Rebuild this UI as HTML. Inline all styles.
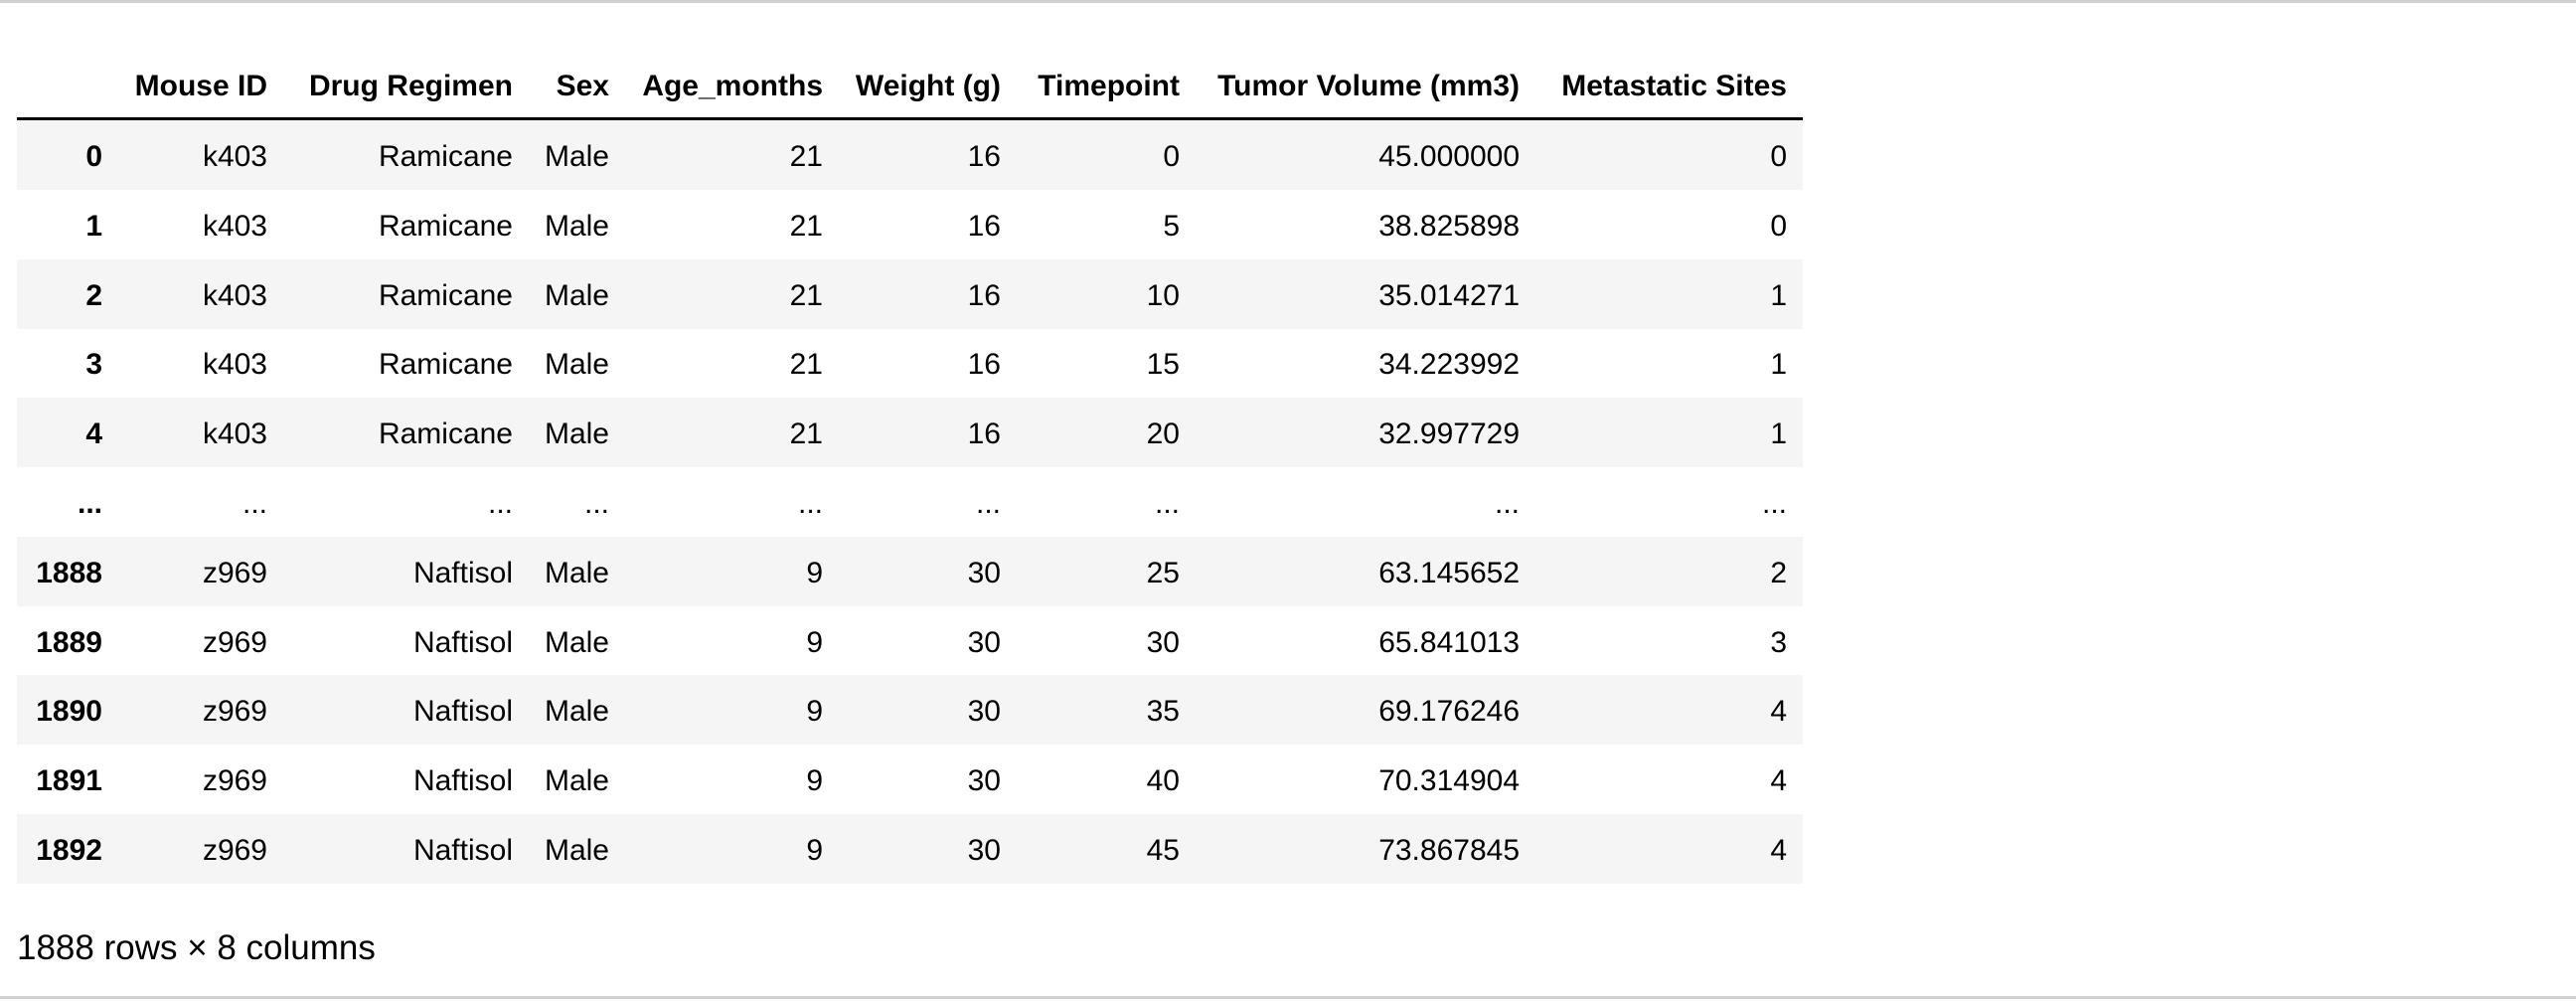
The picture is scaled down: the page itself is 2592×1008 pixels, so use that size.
<!DOCTYPE html>
<html><head><meta charset="utf-8"><style>
html,body{margin:0;padding:0;width:2592px;height:1008px;background:#fff;overflow:hidden;font-family:"Liberation Sans",Arial,sans-serif;color:#000}
.line{position:absolute;left:0;width:2592px;height:3px;background:#d0d0d0}
.row{position:absolute;left:17px;width:1797px;height:70px}
.g{background:#f5f5f5}
.c{position:absolute;font-size:30px;line-height:30px;white-space:nowrap;transform:translateX(-100%)}
.b{font-weight:bold}
#hdr{position:absolute;left:17px;top:118px;width:1797px;height:3px;background:#000}
</style></head><body>
<div class="line" style="top:0"></div>
<div id="hdr"></div>
<div id="tbl"></div>
<div style="position:absolute;left:17px;top:936px;font-size:35px;line-height:35px">1888 rows × 8 columns</div>
<div class="line" style="top:1002px"></div>
<script>
const colRight=[103,269,516,613,828,1007,1187,1529,1798];
const headers=["","Mouse ID","Drug Regimen","Sex","Age_months","Weight (g)","Timepoint","Tumor Volume (mm3)","Metastatic Sites"];
const rows=[
["0","k403","Ramicane","Male","21","16","0","45.000000","0"],
["1","k403","Ramicane","Male","21","16","5","38.825898","0"],
["2","k403","Ramicane","Male","21","16","10","35.014271","1"],
["3","k403","Ramicane","Male","21","16","15","34.223992","1"],
["4","k403","Ramicane","Male","21","16","20","32.997729","1"],
["...","...","...","...","...","...","...","...","..."],
["1888","z969","Naftisol","Male","9","30","25","63.145652","2"],
["1889","z969","Naftisol","Male","9","30","30","65.841013","3"],
["1890","z969","Naftisol","Male","9","30","35","69.176246","4"],
["1891","z969","Naftisol","Male","9","30","40","70.314904","4"],
["1892","z969","Naftisol","Male","9","30","45","73.867845","4"]];
const tbl=document.getElementById('tbl');
headers.forEach((h,i)=>{
 const d=document.createElement('div');
 d.className='c b';d.textContent=h;
 d.style.left=colRight[i]+'px';d.style.top='72px';
 
 
 tbl.appendChild(d);
});
rows.forEach((r,ri)=>{
 const top=121+ri*69.8;
 const bg=document.createElement('div');
 bg.className='row'+(ri%2==0?' g':'');
 bg.style.top=top+'px';
 
 
 tbl.appendChild(bg);
 r.forEach((v,ci)=>{
  const d=document.createElement('div');
  d.className='c'+(ci==0?' b':'');d.textContent=v;
  d.style.left=colRight[ci]+'px';d.style.top=(top+22)+'px';
  
  
  tbl.appendChild(d);
 });
});
</script>
</body></html>
